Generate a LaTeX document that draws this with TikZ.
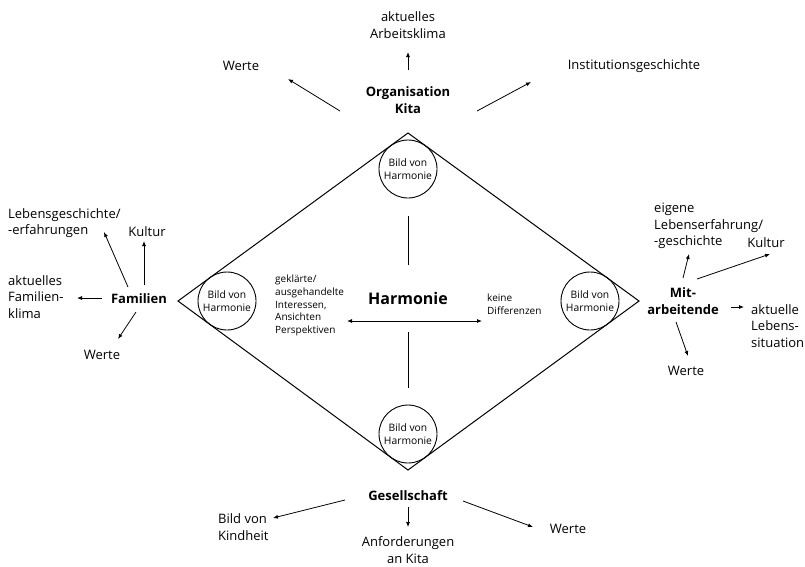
\documentclass[tikz,border=0pt]{standalone}
\usepackage{fontspec}
\setmainfont{Open Sans}
\usetikzlibrary{arrows.meta}
\begin{document}
\begin{tikzpicture}[x=1pt,y=-1pt,
 lbl/.style={font=\fontsize{13}{16.5}\selectfont, inner sep=0pt, align=center},
 lbll/.style={lbl, align=left, anchor=west},
 head/.style={font=\fontsize{13}{16.5}\selectfont\bfseries, inner sep=0pt, align=center},
 circ/.style={circle, draw, line width=0.9pt, minimum size=58pt, inner sep=0pt, align=center, font=\fontsize{10.3}{12.5}\selectfont},
 smalltxt/.style={font=\fontsize{10}{12.8}\selectfont, inner sep=0pt, align=left, anchor=west},
 arr/.style={-{Latex[length=5pt,width=4pt]}, line width=0.8pt},
 dline/.style={line width=1pt}]
\useasboundingbox (0,0) rectangle (805,566);

% diamond
\coordinate (dT) at (408,133);
\coordinate (dR) at (639,301);
\coordinate (dB) at (408,470);
\coordinate (dL) at (178,301);
\draw[dline, line join=miter] (dT) -- (dR) -- (dB) -- (dL) -- cycle;

% circles
\node[circ] (cT) at (408,169) {Bild von\\Harmonie};
\node[circ] (cL) at (227,301) {Bild von\\Harmonie};
\node[circ] (cR) at (590,301) {Bild von\\Harmonie};
\node[circ] (cB) at (408,434) {Bild von\\Harmonie};

% centre
\node[font=\fontsize{16}{19}\selectfont\bfseries, inner sep=0pt] (harm) at (408,298) {Harmonie};
\node[smalltxt] (gekl) at (275,305.5) {geklärte/\\ausgehandelte\\Interessen,\\Ansichten\\Perspektiven};
\node[smalltxt] (keine) at (487,304) {keine\\Differenzen};
\draw[dline] ([shift={(0,47)}]cT.center) -- ([shift={(0,-33)}]harm.center);
\draw[dline] ([shift={(0,34)}]harm.center) -- ([shift={(0,-46)}]cB.center);
\draw[{Latex[length=5pt,width=4pt]}-{Latex[length=5pt,width=4pt]}, line width=0.8pt]
  ([shift={(-61,23)}]harm.center) -- ([shift={(74,23)}]harm.center);

% top
\node[head] (org) at (408,100) {Organisation\\Kita};
\node[lbl] (arbeit) at (408,25) {aktuelles\\Arbeitsklima};
\node[lbl] (wertT) at (241,66) {Werte};
\node[lbl] (inst) at (634,66) {Institutionsgeschichte};
\draw[arr] ([shift={(0,-30)}]org.center) -- ([shift={(0,27)}]arbeit.center);
\draw[arr] ([shift={(-68,11)}]org.center) -- ([shift={(47,13)}]wertT.center);
\draw[arr] ([shift={(69,11)}]org.center) -- ([shift={(-103,16)}]inst.center);

% left
\node[head] (fam) at (139,299) {Familien};
\node[lbll] (lebens) at (8,223) {Lebensgeschichte/\\-erfahrungen};
\node[lbl] (kultL) at (147,232) {Kultur};
\node[lbll] (fklima) at (8,297) {aktuelles\\Familien-\\klima};
\node[lbl] (werteL) at (102,355) {Werte};
\draw[arr] ([shift={(5,-14)}]fam.center) -- ([shift={(-3,9)}]kultL.center);
\draw[arr] ([shift={(-11,-12)}]fam.center) -- ([shift={(96,9)}]lebens.west);
\draw[arr] ([shift={(-37,-1)}]fam.center) -- ([shift={(69,1)}]fklima.west);
\draw[arr] ([shift={(-3,13)}]fam.center) -- ([shift={(16,-16)}]werteL.center);

% right
\node[head] (mit) at (683,301) {Mit-\\arbeitende};
\node[lbll] (eigene) at (654,226) {eigene\\Lebenserfahrung/\\-geschichte};
\node[lbl] (kultR) at (766,243) {Kultur};
\node[lbll] (aktR) at (751,326) {aktuelle\\Lebens-\\situation};
\node[lbl] (werteR) at (686,371) {Werte};
\draw[arr] ([shift={(0,-23)}]mit.center) -- ([shift={(35,28)}]eigene.west);
\draw[arr] ([shift={(14,-22)}]mit.center) -- ([shift={(4,11)}]kultR.center);
\draw[arr] ([shift={(48,6)}]mit.center) -- ([shift={(-7,-19)}]aktR.west);
\draw[arr] ([shift={(-7,21)}]mit.center) -- ([shift={(2,-15)}]werteR.center);

% bottom
\node[head] (ges) at (408,496) {Gesellschaft};
\node[lbll] (kind) at (218,527) {Bild von\\Kindheit};
\node[lbl] (anf) at (408,550) {Anforderungen\\an Kita};
\node[lbl] (werteB) at (568,529) {Werte};
\draw[arr] ([shift={(-63,4)}]ges.center) -- ([shift={(55,-9)}]kind.west);
\draw[arr] ([shift={(0,11)}]ges.center) -- ([shift={(0,-23)}]anf.center);
\draw[arr] ([shift={(55,5)}]ges.center) -- ([shift={(-35,-2)}]werteB.center);
\end{tikzpicture}
\end{document}
